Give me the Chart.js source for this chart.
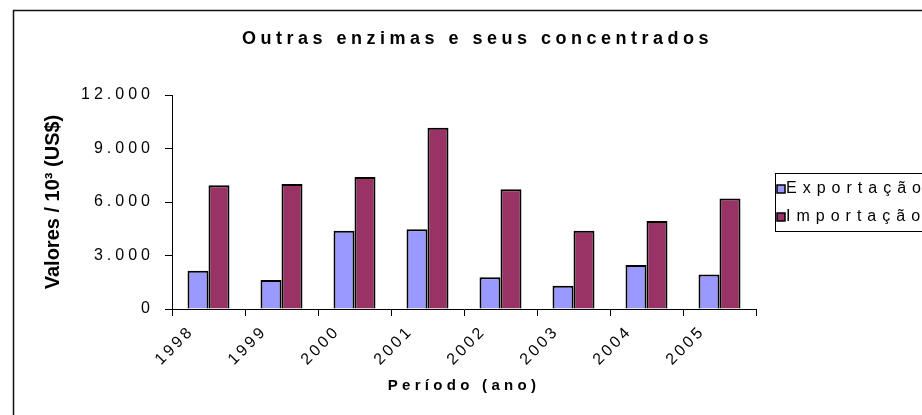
<!DOCTYPE html>
<html>
<head>
<meta charset="utf-8">
<script src="https://cdn.jsdelivr.net/npm/chart.js@4"></script>
<style>
  html, body { margin: 0; padding: 0; background: #fff; }
  #wrap { width: 922px; height: 415px; }
</style>
</head>
<body>
<div id="wrap"><canvas id="enzimasChart"></canvas></div>
<script>
const years = ['1998', '1999', '2000', '2001', '2002', '2003', '2004', '2005'];
const exportacao = [2150, 1630, 4390, 4470, 1780, 1310, 2470, 1930];
const importacao = [6940, 7010, 7400, 10170, 6710, 4390, 4940, 6190];
const yMax = 12000;
const yStep = 3000;

const FONT = 'Arial, "Liberation Sans", sans-serif';

function fmt(v) {
  return String(v).replace(/\B(?=(\d{3})+(?!\d))/g, '.');
}

// wrap a draw method so its text gets the spaced-out look of the original
function spaced(obj, name, ls) {
  const orig = obj[name];
  obj[name] = function() {
    const ctx = this.ctx;
    const prev = ctx.letterSpacing;
    ctx.letterSpacing = ls;
    orig.apply(this, arguments);
    ctx.letterSpacing = prev;
  };
}

const decor = {
  id: 'decor',
  beforeDraw(chart) {
    const ctx = chart.ctx;
    if (!chart.$spaced) {
      chart.$spaced = true;
      spaced(chart.titleBlock, 'draw', '4.5px');
      spaced(chart.scales.x, 'drawLabels', '3px');
      spaced(chart.scales.x, 'drawTitle', '4.3px');
      spaced(chart.scales.y, 'drawLabels', '4px');
    }
    // outer frame
    ctx.save();
    ctx.strokeStyle = '#111';
    ctx.lineWidth = 1.5;
    ctx.strokeRect(13.5, 10.5, 1000, 500);
    ctx.restore();
  },
  afterDraw(chart) {
    const ctx = chart.ctx;
    ctx.save();
    // legend box
    ctx.strokeStyle = '#000';
    ctx.lineWidth = 1;
    ctx.strokeRect(775.5, 173.5, 300, 58);
    ctx.font = '16px ' + FONT;
    ctx.letterSpacing = '6px';
    ctx.textBaseline = 'alphabetic';
    chart.data.datasets.forEach(function(ds, i) {
      const y = 185 + i * 28;
      ctx.fillStyle = ds.backgroundColor;
      ctx.fillRect(777, y, 8, 8);
      ctx.lineWidth = 1.5;
      ctx.strokeRect(777, y, 8, 8);
      ctx.fillStyle = '#000';
      ctx.fillText(ds.label, 786, y + 8);
    });
    ctx.restore();
  }
};

new Chart(document.getElementById('enzimasChart'), {
  type: 'bar',
  data: {
    labels: years,
    datasets: [
      {
        label: 'Exportação',
        data: exportacao,
        backgroundColor: '#9999FF',
        borderColor: '#000',
        borderWidth: 2
      },
      {
        label: 'Importação',
        data: importacao,
        backgroundColor: '#993366',
        borderColor: '#000',
        borderWidth: 2
      }
    ]
  },
  options: {
    responsive: true,
    maintainAspectRatio: false,
    animation: false,
    layout: { padding: { left: 33, right: 0, top: 0, bottom: 0 } },
    datasets: {
      bar: { categoryPercentage: 0.575, barPercentage: 1.0 }
    },
    plugins: {
      legend: { display: false },
      tooltip: { enabled: false },
      title: {
        display: true,
        text: 'Outras enzimas e seus concentrados',
        color: '#000',
        font: { family: FONT, size: 18, weight: 'bold', lineHeight: 1.2 },
        padding: { top: 28.7, bottom: 44.7 }
      }
    },
    scales: {
      x: {
        grid: {
          display: true,
          offset: true,
          drawOnChartArea: false,
          drawTicks: true,
          tickLength: 7,
          color: '#000'
        },
        border: { display: true, color: '#000', width: 1 },
        ticks: {
          color: '#000',
          minRotation: 45,
          maxRotation: 45,
          labelOffset: -17,
          padding: 6,
          font: { family: FONT, size: 16 }
        },
        title: {
          display: true,
          text: 'Período (ano)',
          color: '#000',
          font: { family: FONT, size: 15, weight: 'bold', lineHeight: 1.2 },
          padding: { top: 0, bottom: 20 }
        },
        afterFit: function(scale) { scale.height = 106; }
      },
      y: {
        min: 0,
        max: yMax,
        grid: {
          display: true,
          drawOnChartArea: false,
          drawTicks: true,
          tickLength: 7,
          color: '#000'
        },
        border: { display: true, color: '#000', width: 1 },
        ticks: {
          stepSize: yStep,
          color: '#000',
          padding: 11,
          font: { family: FONT, size: 16 },
          callback: function(v) { return fmt(v); }
        },
        title: {
          display: true,
          text: 'Valores / 10³ (US$)',
          color: '#000',
          font: { family: FONT, size: 20, weight: 'bold', lineHeight: 1.2 },
          padding: { top: 8, bottom: 0 }
        },
        afterFit: function(scale) { scale.width = 139; }
      },
      spacer: {
        type: 'linear',
        position: 'right',
        display: true,
        grid: { display: false },
        border: { display: false },
        ticks: { display: false },
        afterFit: function(scale) { scale.width = 166; }
      }
    }
  },
  plugins: [decor]
});
</script>
</body>
</html>
